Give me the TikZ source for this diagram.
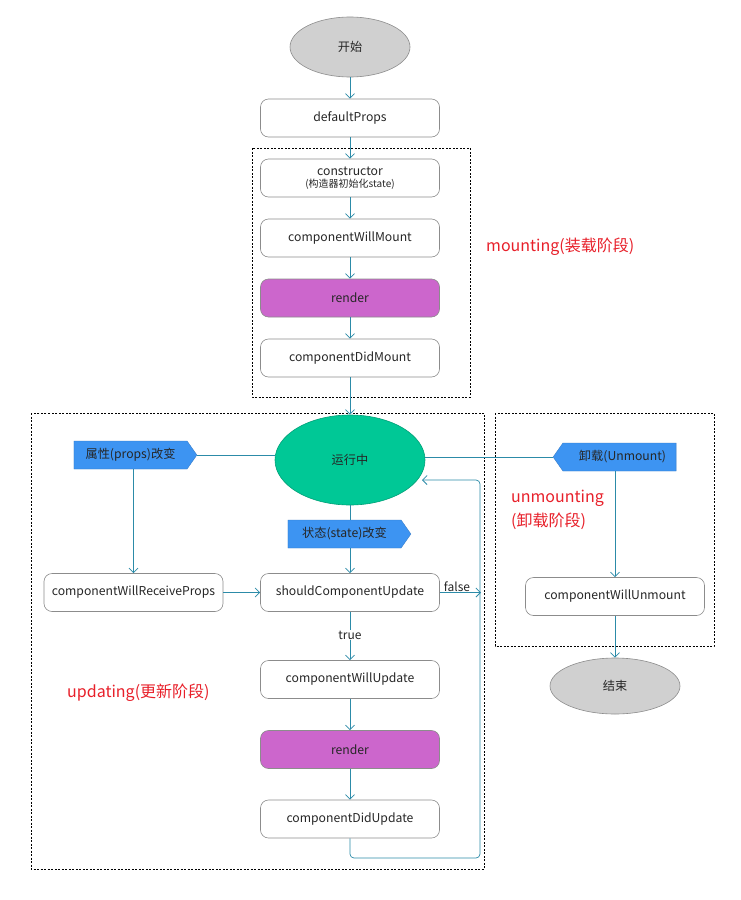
\documentclass[tikz,border=0pt]{standalone}
\usepackage{fontspec}
\setmainfont{Noto Sans CJK SC}
\usetikzlibrary{shapes.geometric,shapes.symbols,arrows.meta}
\definecolor{arr}{HTML}{2C8BA8}
\definecolor{boxline}{HTML}{8C8C8C}
\definecolor{rend}{HTML}{CC66CC}
\definecolor{run}{HTML}{00C896}
\definecolor{tagc}{HTML}{3D94F2}
\definecolor{endc}{HTML}{D0D0D0}
\definecolor{lbl}{HTML}{E8202A}
\tikzset{
  stepbox/.style={draw=boxline, line width=0.6pt, rounded corners=8pt, fill=white,
    minimum width=179pt, minimum height=38pt, inner sep=0pt, font=\fontsize{12.2}{14}\selectfont, text=black!85},
  renderbox/.style={stepbox, fill=rend},
  oval/.style={ellipse, draw=boxline, line width=0.6pt, inner sep=0pt, font=\fontsize{12.2}{14}\selectfont, text=black!85},
  tagbox/.style={signal, fill=tagc, draw=tagc!80!black, line width=0.3pt, minimum height=28pt, inner sep=0pt, signal pointer angle=110, font=\fontsize{12.2}{14}\selectfont, text=black!85},
  conn/.style={draw=arr, line width=0.7pt},
  flow/.style={conn, -{Straight Barb[length=4.5pt,width=9pt,line width=0.8pt]}},
  phase/.style={draw=black, dashed, dash pattern=on 2pt off 1.5pt, line width=0.6pt},
  phaselbl/.style={text=lbl, font=\fontsize{16}{19}\selectfont, anchor=west, inner sep=0pt},
  small/.style={font=\fontsize{12}{14}\selectfont, text=black!85}
}
\begin{document}
\begin{tikzpicture}[x=1pt,y=-1pt]
\useasboundingbox[fill=white] (0,0) rectangle (740,900);
% phase frames
\draw[phase] (252,148) rectangle (470,397);
\draw[phase] (31,413) rectangle (484,869);
\draw[phase] (495,413) rectangle (714,646);
% nodes
\node[oval, fill=endc, minimum width=120pt, minimum height=60pt] (start) at (350,47) {开始};
\node[stepbox] (dp) at (350,118) {defaultProps};
\node[stepbox, align=center] (ctor) at (350,178) {constructor\\[-2pt]{\fontsize{10}{11}\selectfont (构造器初始化state)}};
\node[stepbox] (cwm) at (350,238) {componentWillMount};
\node[renderbox] (r1) at (350,298) {render};
\node[stepbox] (cdm) at (350,358) {componentDidMount};
\node[phaselbl] (mlbl) at (486,247) {mounting(装载阶段)};

\node[oval, fill=run, draw=run!80!black, minimum width=150pt, minimum height=90pt] (run) at (350,460) {运行中};
\node[tagbox, signal to=east, minimum width=123pt] (props) at (130.5,455) {属性(props)改变\hspace{6pt}};
\node[tagbox, signal to=east, minimum width=123pt] (state) at (344.5,534) {状态(state)改变\hspace{6pt}};
\node[tagbox, signal to=west, minimum width=123pt] (unm) at (619.5,457) {\hspace{6pt}卸载(Unmount)};

\node[stepbox] (cwrp) at (133.5,592.5) {componentWillReceiveProps};
\node[stepbox] (scu) at (350,592.5) {shouldComponentUpdate};
\node[stepbox] (cwu) at (350,679.5) {componentWillUpdate};
\node[renderbox] (r2) at (350,749.5) {render};
\node[stepbox] (cdu) at (350,819) {componentDidUpdate};
\node[phaselbl] (ulbl) at (67,693) {updating(更新阶段)};

\node[phaselbl, align=left] (unlbl) at (511,510) {unmounting\\[5pt](卸载阶段)};
\node[stepbox] (cwun) at (615,596.5) {componentWillUnmount};
\node[oval, fill=endc, minimum width=130pt, minimum height=56pt] (fin) at (615,686) {结束};

\node[small, inner sep=1pt] (tlbl) at (350,635) {true};
\node[small, inner sep=0pt, anchor=south] (flbl) at (457,592) {false};
\coordinate (fend) at (481,592.5);
\coordinate (ret) at (422,480);

% connectors
\draw[flow] (start) -- (dp);
\draw[flow] (dp) -- (ctor);
\draw[flow] (ctor) -- (cwm);
\draw[flow] (cwm) -- (r1);
\draw[flow] (r1) -- (cdm);
\draw[flow] (cdm) -- (run);
\draw[conn] (props.east) -- (props.east -| run.west);
\draw[conn] (run.east |- unm.west) -- (unm.west);
\draw[flow] (props.south -| cwrp.north) -- (cwrp.north);
\draw[conn] (run.south) -- (state.north -| run.south);
\draw[flow] (state.south -| scu.north) -- (scu.north);
\draw[flow] (cwrp) -- (scu);
\draw[flow] (scu.east) -- (fend);
\draw[conn] (scu) -- (tlbl);
\draw[flow] (tlbl) -- (cwu);
\draw[flow] (cwu) -- (r2);
\draw[flow] (r2) -- (cdu);
\draw[flow, rounded corners=4pt] (cdu.south) -- (350,858) -- (480,858) -- (480,480) -- (ret);
\draw[flow] (unm.south -| cwun.north) -- (cwun.north);
\draw[flow] (cwun) -- (fin);
\end{tikzpicture}
\end{document}
